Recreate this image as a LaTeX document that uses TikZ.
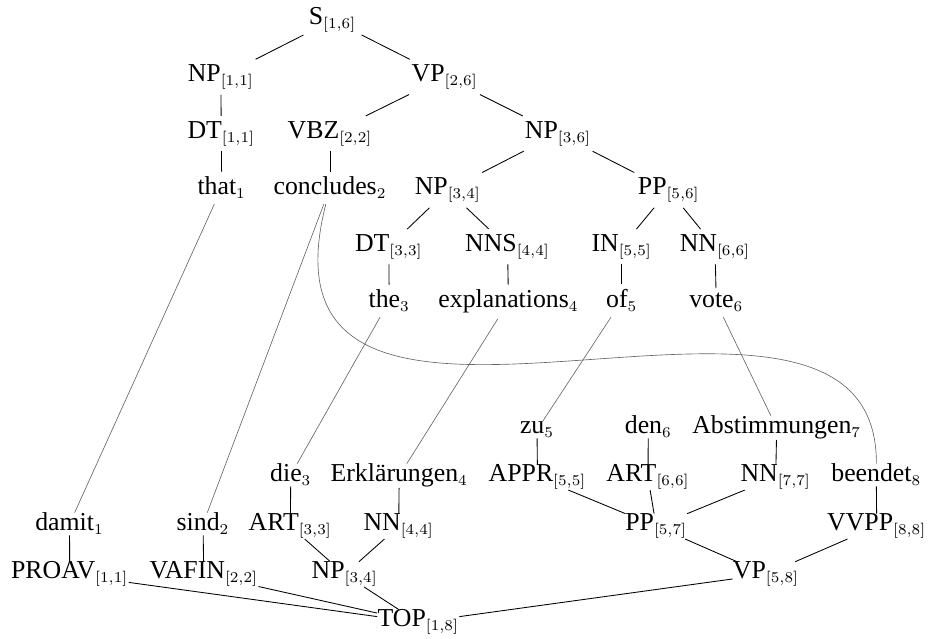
\documentclass[tikz,border=0pt]{standalone}
\usepackage[no-math]{fontspec}
\setmainfont{Liberation Serif}
\DeclareMathSizes{12}{12}{7}{5}

\begin{document}
\begin{tikzpicture}[x=0.465pt, y=-0.465pt,
		every node/.style={font=\fontsize{12}{14}\selectfont, anchor=base},
		en/.style={inner sep=2.3pt},
		de/.style={inner sep=0pt},
		link/.style={draw=black!60, line width=0.3pt}]
		\useasboundingbox (0,0) rectangle (929,639);
		
		% English tree
		\foreach \n/\x/\y/\s in {s/332.5/25/S$_{[1,6]}$,
			np11/220.8/81.6/NP$_{[1,1]}$, vp26/444.7/81.6/VP$_{[2,6]}$,
			dt11/221.3/138.2/DT$_{[1,1]}$, vbz22/330/138.2/VBZ$_{[2,2]}$,
			np36/558/138.2/NP$_{[3,6]}$,
			np34/447.8/194.8/NP$_{[3,4]}$, pp56/668.8/194.8/PP$_{[5,6]}$,
			dt33/388.8/251.4/DT$_{[3,3]}$, nns44/507.5/251.4/NNS$_{[4,4]}$,
			in55/621.7/251.4/IN$_{[5,5]}$, nn66/715/251.4/NN$_{[6,6]}$}
		\node[en] (\n) at (\x,\y) {\s};
		
		\foreach \n/\x/\y/\s in {1/221.7/194.8/that, 2/330/194.8/concludes,
			3/389.2/308/the, 4/508.5/308/explanations,
			5/621.7/308/of, 6/716.3/308/vote}
		\node[en] (w_\n) at (\x,\y) {\s$_\n$};
		
		% German tree
		\foreach \n/\x/\y/\s in {appr55/537.5/482/APPR$_{[5,5]}$,
			art66/648/482/ART$_{[6,6]}$, nn77/775.7/482/NN$_{[7,7]}$,
			art33/290.3/531/ART$_{[3,3]}$, nn44/398.7/531/NN$_{[4,4]}$,
			pp57/656.2/531/PP$_{[5,7]}$, vvpp88/876.7/531/VVPP$_{[8,8]}$,
			proav11/69.7/579/PROAV$_{[1,1]}$, vafin22/203.8/579/VAFIN$_{[2,2]}$,
			gnp34/344.7/579/NP$_{[3,4]}$, vp58/766/579/VP$_{[5,8]}$,
			top18/418.3/627/TOP$_{[1,8]}$}
		\node[de] (\n) at (\x,\y) {\s};
		
		\foreach \n/\x/\y/\s in {1/69.5/531/damit, 2/203/531/sind,
			3/290.8/482/die, 4/399.2/482/Erklärungen,
			5/537/434/zu, 6/648.3/434/den, 7/776.7/434/Abstimmungen,
			8/876.3/482/beendet}
		\node[de] (g_\n) at (\x,\y) {\s$_\n$};
		
		\foreach \a/\b in {s/np11, s/vp26, np11/dt11, dt11/w_1,
			vp26/vbz22, vp26/np36, vbz22/w_2, np36/np34, np36/pp56,
			np34/dt33, np34/nns44, dt33/w_3, nns44/w_4,
			pp56/in55, pp56/nn66, in55/w_5, nn66/w_6}
		\draw (\a) -- (\b);
		
		\foreach \a/\b in {g_1/proav11, g_2/vafin22, g_3/art33, g_4/nn44,
			art33/gnp34, nn44/gnp34, g_5/appr55, g_6/art66, g_7/nn77,
			appr55/pp57, art66/pp57, nn77/pp57, g_8/vvpp88,
			pp57/vp58, vvpp88/vp58,
			proav11/top18, vafin22/top18, gnp34/top18, vp58/top18}
		\draw (\a) -- (\b);
		
		% word alignment
		\foreach \n\m in {1/1, 2/2, 3/3, 4/4, 5/5, 6/7}
		\draw[link] (w_\n) -- (g_\m);
		\draw[link] (w_2) .. controls (240,540) and (878,200) .. (g_8);
		
	\end{tikzpicture}
\end{document}
